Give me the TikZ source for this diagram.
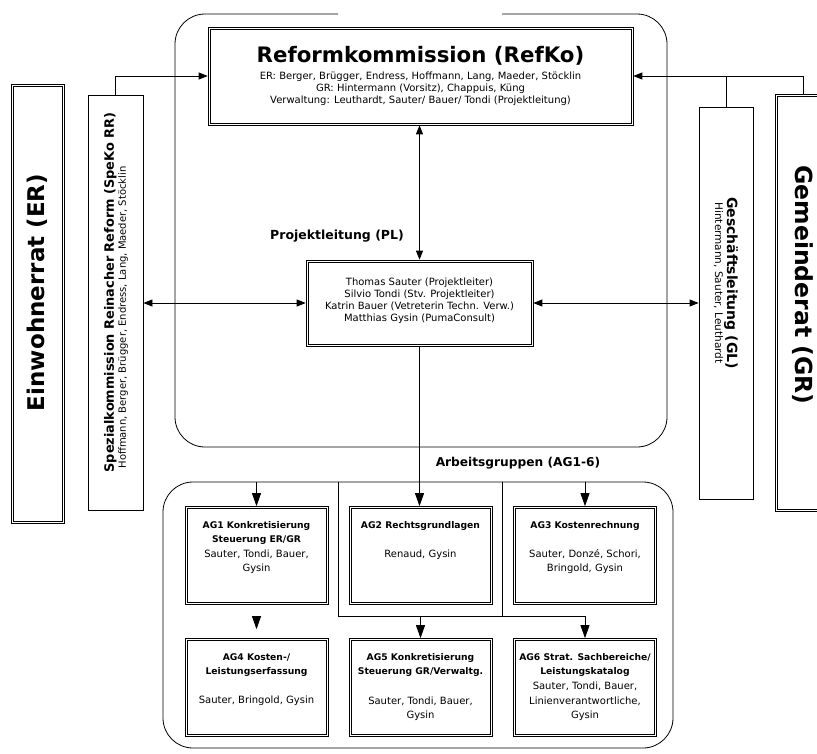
\documentclass[tikz,border=0pt]{standalone}
\usepackage{fontspec}
\setmainfont{DejaVu Sans}
\usetikzlibrary{arrows.meta}

\newcommand\fs[2]{\fontsize{#1}{#2}\selectfont}
% text block of a working-group box, top aligned
\newcommand\agtxt[1]{\vbox to 86pt{\hsize=140pt\parindent=0pt\centering\fs{10}{14.5}\kern9pt #1\par\vfil}}
\newcommand\agt[1]{{\fs{9.2}{14.5}\bfseries #1}}

\tikzset{
  line/.style={line width=0.8pt},
  % box with a double border: outer rule plus an inset rule
  dbl/.style={draw, line width=0.7pt, inner sep=0pt, align=center,
    path picture={\draw[line width=0.6pt]
      ([shift={(2pt,-2pt)}]path picture bounding box.north west) rectangle
      ([shift={(-2pt,2pt)}]path picture bounding box.south east);}},
  sbl/.style={draw, line width=0.8pt, inner sep=0pt, align=center},
  agbox/.style={dbl, inner xsep=1.5pt, inner ysep=6pt},
  tipa/.style={line width=0.8pt, -{Triangle[length=9pt,width=7pt]}},
  tipb/.style={line width=0.8pt, {Triangle[length=9pt,width=7pt]}-{Triangle[length=9pt,width=7pt]}},
  tipc/.style={line width=0.8pt, -{Triangle[length=13pt,width=9pt]}},
}

\begin{document}
\begin{tikzpicture}[x=1pt,y=-1pt]
\useasboundingbox (0,0) rectangle (817,753);
\clip (0,0) rectangle (817,753);

% frames
\draw[line, rounded corners=30pt] (338,14) -- (175,14) -- (175,447) -- (667,447) -- (667,14) -- (502,14);
\draw[line, rounded corners=30pt] (163,482) rectangle (673,748);
\coordinate (ftop) at (420,482);
\coordinate (hbar) at (420,616);
\coordinate (divl) at (338,482);
\coordinate (divr) at (502,482);

% reform commission
\node[dbl, minimum width=425pt, minimum height=98pt, font=\fs{10}{12}] (refko) at (420.5,76)
  {{\fs{21.3}{26}\bfseries Reformkommission (RefKo)}\\[5pt]
   ER: Berger, Brügger, Endress, Hoffmann, Lang, Maeder, Stöcklin\\
   GR: Hintermann (Vorsitz), Chappuis, Küng\\
   Verwaltung: Leuthardt, Sauter/ Bauer/ Tondi (Projektleitung)};

% project management
\node[font=\fs{12.5}{14}\bfseries] (pltitle) at (337,236) {Projektleitung (PL)};
\node[dbl, minimum width=227pt, minimum height=86pt, font=\fs{10}{12}] (pl) at (419.5,303)
  {Thomas Sauter (Projektleiter)\\Silvio Tondi (Stv. Projektleiter)\\Katrin Bauer (Vetreterin Techn. Verw.)\\Matthias Gysin (PumaConsult)\\[-5pt]~};

% councils and committees on the sides
\node[dbl, minimum width=53pt, minimum height=439pt] (er) at (37.5,303.5) {};
\node[rotate=90, font=\fs{23}{26}\bfseries] (ertxt) at (37.5,292.5) {Einwohnerrat (ER)};

\node[sbl, minimum width=55pt, minimum height=415pt] (speko) at (115.5,302.5) {};
\node[rotate=90, anchor=west, align=left] (spekotxt) at (116,476)
  {{\fs{12.9}{16}\bfseries Spezialkommission Reinacher Reform (SpeKo RR)}\\
   {\fs{10}{12}\hspace{4pt}Hoffmann, Berger, Brügger, Endress, Lang, Maeder, Stöcklin}};

\node[sbl, minimum width=54pt, minimum height=392pt] (gl) at (726,303) {};
\node[rotate=-90, align=center] (gltxt) at (726,283)
  {{\fs{14}{16}\bfseries Geschäftsleitung (GL)}\\
   {\fs{10.5}{12}Hintermann, Sauter, Leuthardt}};

\node[dbl, minimum width=56pt, minimum height=417pt] (gr) at (803,302.5) {};
\node[rotate=-90, font=\fs{23.5}{26}\bfseries] (grtxt) at (803,285) {Gemeinderat (GR)};

% working groups
\node[font=\fs{12.2}{15}\bfseries] (agtitle) at (518,463) {Arbeitsgruppen (AG1-6)};

\node[agbox] (ag1) at (256.5,555.5) {\agtxt{\agt{AG1 Konkretisierung}\\\agt{Steuerung ER/GR}\\Sauter, Tondi, Bauer,\\Gysin}};
\node[agbox] (ag2) at (420.5,555.5) {\agtxt{\agt{AG2 Rechtsgrundlagen}\\[14.5pt]Renaud, Gysin}};
\node[agbox] (ag3) at (585,555.5) {\agtxt{\agt{AG3 Kostenrechnung}\\[14.5pt]Sauter, Donzé, Schori,\\Bringold, Gysin}};
\node[agbox] (ag4) at (256.5,687.5) {\agtxt{\agt{AG4 Kosten-/}\\\agt{Leistungserfassung}\\[14.5pt]Sauter, Bringold, Gysin}};
\node[agbox] (ag5) at (420.5,687.5) {\agtxt{\agt{AG5 Konkretisierung}\\\agt{Steuerung GR/Verwaltg.}\\[14.5pt]Sauter, Tondi, Bauer,\\Gysin}};
\node[agbox] (ag6) at (585,687.5) {\agtxt{\agt{AG6 Strat. Sachbereiche/}\\\agt{Leistungskatalog}\\Sauter, Tondi, Bauer,\\Linienverantwortliche,\\Gysin}};

% connectors at the top
\draw[tipa] (speko.north) |- (refko.west);
\draw[tipa] (gr.north) |- (refko.east);
\draw[line] (gl.north) -- (gl.north |- refko.east);
\draw[tipb] (pl.north |- refko.south) -- (pl.north);
\draw[tipb] (pl.west -| speko.east) -- (pl.west);
\draw[tipb] (pl.east) -- (pl.east -| gl.west);

% connectors to the working groups
\draw[tipc] (pl.south) -- (pl.south |- ag2.north);
\draw[tipc] (ag1.north |- ftop) -- (ag1.north);
\draw[tipc] (ag3.north |- ftop) -- (ag3.north);
\draw[line] (divl) -- (divl |- hbar) -- (ag6.north |- hbar);
\draw[line] (divr) -- (divr |- hbar);
\draw[tipc] (ag5.north |- hbar) -- (ag5.north);
\draw[tipc] (ag6.north |- hbar) -- (ag6.north);
\draw[tipc] (ag4.north |- hbar) -- ([yshift=9pt]ag4.north);
\end{tikzpicture}
\end{document}
